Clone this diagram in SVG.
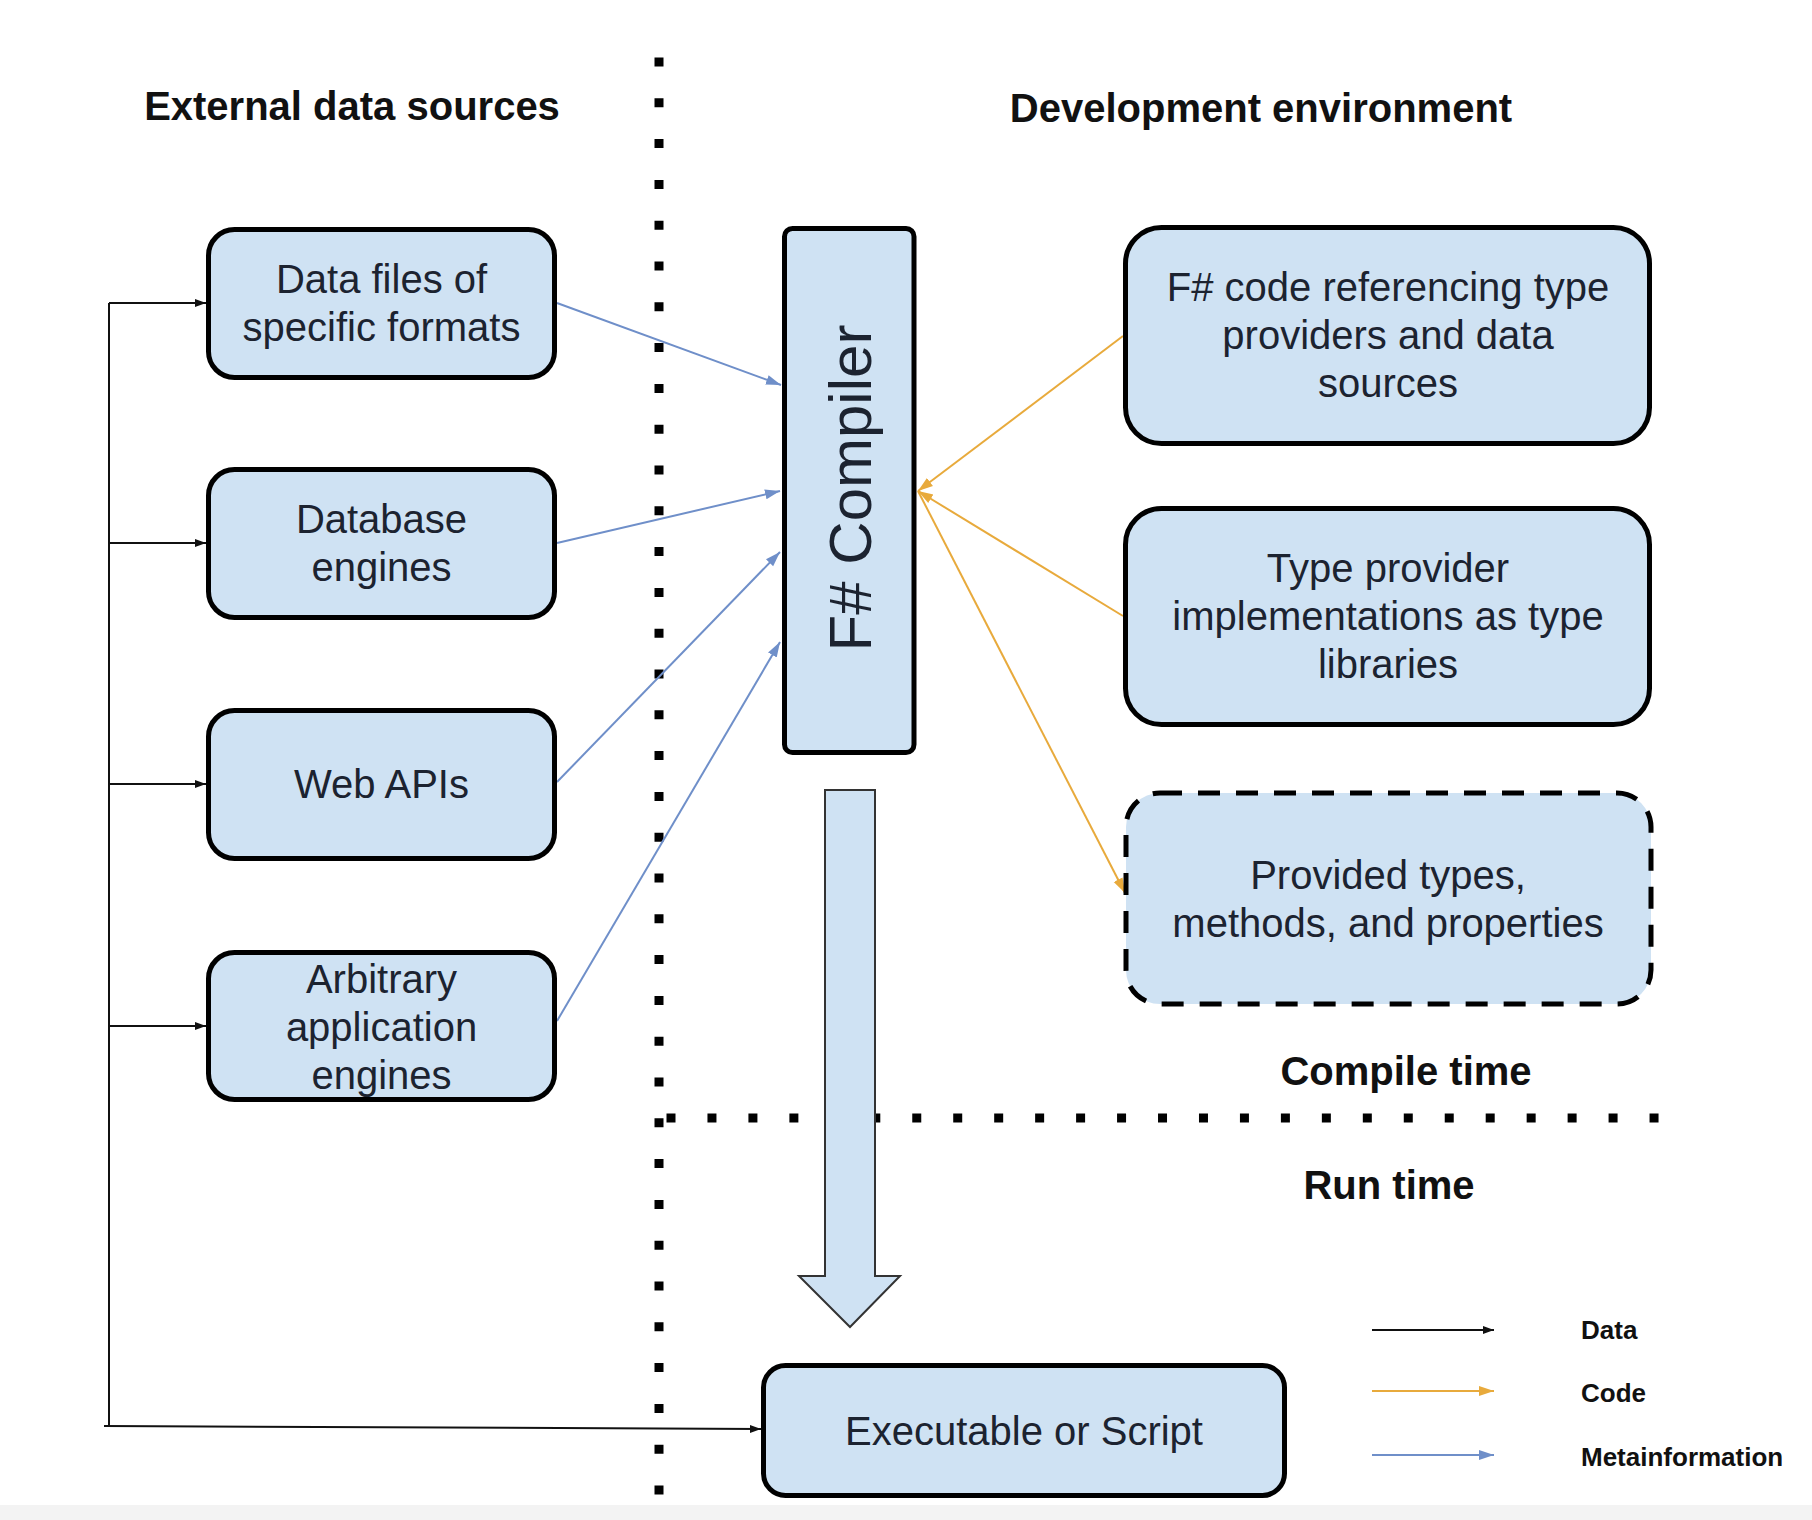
<svg xmlns="http://www.w3.org/2000/svg" width="1812" height="1520" viewBox="0 0 1812 1520">
<style>
  .box { fill: #cfe2f3; stroke: #000; stroke-width: 5; }
  .txt { font-family: "Liberation Sans", Arial, sans-serif; font-size: 40px; fill: #1c2330; text-anchor: middle; }
  .title { font-family: "Liberation Sans", Arial, sans-serif; font-size: 40px; font-weight: bold; fill: #111; text-anchor: middle; }
  .legend { font-family: "Liberation Sans", Arial, sans-serif; font-size: 26px; font-weight: bold; fill: #111; }
  .data { stroke: #111; stroke-width: 2; fill: none; }
  .code { stroke: #e8aa3c; stroke-width: 2; fill: none; }
  .meta { stroke: #6f8fc9; stroke-width: 2; fill: none; }
  .dots { stroke: #000; stroke-width: 9; fill: none; }
</style>
<defs>
  <marker id="mData" markerUnits="userSpaceOnUse" markerWidth="12" markerHeight="10" refX="11" refY="5" orient="auto">
    <path d="M0,1 L11,5 L0,9 Z" fill="#111"/>
  </marker>
  <marker id="mCode" markerUnits="userSpaceOnUse" markerWidth="16" markerHeight="12" refX="15" refY="6" orient="auto">
    <path d="M0,1 L15,6 L0,11 Z" fill="#e8aa3c"/>
  </marker>
  <marker id="mMeta" markerUnits="userSpaceOnUse" markerWidth="16" markerHeight="12" refX="15" refY="6" orient="auto">
    <path d="M0,1 L15,6 L0,11 Z" fill="#6f8fc9"/>
  </marker>
</defs>
<rect x="0" y="0" width="1812" height="1520" fill="#ffffff"/>
<rect x="0" y="1505" width="1812" height="15" fill="#f3f3f3"/>

<g id="separators">
  <line class="dots" x1="659" y1="57.5" x2="659" y2="1496" stroke-dasharray="9 31.8"/>
  <line class="dots" x1="666.5" y1="1118" x2="1659" y2="1118" stroke-dasharray="9 31.96"/>
</g>

<g id="titles">
  <text class="title" x="352" y="120">External data sources</text>
  <text class="title" x="1261" y="122">Development environment</text>
  <text class="title" x="1406" y="1085">Compile time</text>
  <text class="title" x="1389" y="1199">Run time</text>
</g>

<g id="connectors">
  <polyline class="data" points="109,1426 109,303"/>
  <line class="data" x1="109" y1="303" x2="206" y2="303" marker-end="url(#mData)"/>
  <line class="data" x1="109" y1="543" x2="206" y2="543" marker-end="url(#mData)"/>
  <line class="data" x1="109" y1="784" x2="206" y2="784" marker-end="url(#mData)"/>
  <line class="data" x1="109" y1="1026" x2="206" y2="1026" marker-end="url(#mData)"/>
  <line class="data" x1="104" y1="1426" x2="761" y2="1429" marker-end="url(#mData)"/>

  <line class="meta" x1="557" y1="303" x2="781" y2="385" marker-end="url(#mMeta)"/>
  <line class="meta" x1="557" y1="543" x2="780" y2="491" marker-end="url(#mMeta)"/>
  <line class="meta" x1="557" y1="782" x2="780" y2="552" marker-end="url(#mMeta)"/>
  <line class="meta" x1="557" y1="1021" x2="780" y2="642" marker-end="url(#mMeta)"/>

  <line class="code" x1="1123" y1="336" x2="918" y2="491" marker-end="url(#mCode)"/>
  <line class="code" x1="1123" y1="616" x2="918" y2="491" marker-end="url(#mCode)"/>
  <line class="code" x1="918" y1="491" x2="1125" y2="893" marker-end="url(#mCode)"/>
</g>

<g id="big-arrow">
  <path d="M825,790 L875,790 L875,1276 L900,1276 L850,1327 L799,1276 L825,1276 Z" fill="#cfe2f3" stroke="#333" stroke-width="2"/>
</g>

<g id="node-datafiles">
  <rect class="box" x="208.5" y="229.5" width="346" height="148" rx="26"/>
  <text class="txt" x="381.5" y="293">Data files of</text>
  <text class="txt" x="381.5" y="341">specific formats</text>
</g>
<g id="node-database">
  <rect class="box" x="208.5" y="469.5" width="346" height="148" rx="26"/>
  <text class="txt" x="381.5" y="533">Database</text>
  <text class="txt" x="381.5" y="581">engines</text>
</g>
<g id="node-webapis">
  <rect class="box" x="208.5" y="710.5" width="346" height="148" rx="26"/>
  <text class="txt" x="381.5" y="798">Web APIs</text>
</g>
<g id="node-arbitrary">
  <rect class="box" x="208.5" y="952.5" width="346" height="147" rx="26"/>
  <text class="txt" x="381.5" y="993">Arbitrary</text>
  <text class="txt" x="381.5" y="1041">application</text>
  <text class="txt" x="381.5" y="1089">engines</text>
</g>

<g id="node-compiler">
  <rect class="box" x="784.5" y="228.5" width="129.5" height="524" rx="8"/>
  <text class="txt" style="font-size:60px" transform="translate(871,488) rotate(-90)">F# Compiler</text>
</g>

<g id="node-fsharpcode">
  <rect class="box" x="1125.5" y="227.5" width="524" height="216" rx="36"/>
  <text class="txt" x="1388" y="301">F# code referencing type</text>
  <text class="txt" x="1388" y="349">providers and data</text>
  <text class="txt" x="1388" y="397">sources</text>
</g>
<g id="node-typeprovider">
  <rect class="box" x="1125.5" y="508.5" width="524" height="216" rx="36"/>
  <text class="txt" x="1388" y="582">Type provider</text>
  <text class="txt" x="1388" y="630">implementations as type</text>
  <text class="txt" x="1388" y="678">libraries</text>
</g>
<g id="node-provided">
  <rect class="box" x="1126" y="793" width="525" height="211" rx="34" stroke-width="6" stroke-dasharray="22 16"/>
  <text class="txt" x="1388" y="889">Provided types,</text>
  <text class="txt" x="1388" y="937">methods, and properties</text>
</g>

<g id="node-executable">
  <rect class="box" x="763.5" y="1365.5" width="521" height="130" rx="22"/>
  <text class="txt" x="1024" y="1445">Executable or Script</text>
</g>

<g id="legend">
  <line class="data" x1="1372" y1="1330" x2="1494" y2="1330" marker-end="url(#mData)"/>
  <line class="code" x1="1372" y1="1391" x2="1494" y2="1391" marker-end="url(#mCode)"/>
  <line class="meta" x1="1372" y1="1455" x2="1494" y2="1455" marker-end="url(#mMeta)"/>
  <text class="legend" x="1581" y="1339">Data</text>
  <text class="legend" x="1581" y="1402">Code</text>
  <text class="legend" x="1581" y="1466">Metainformation</text>
</g>
</svg>
